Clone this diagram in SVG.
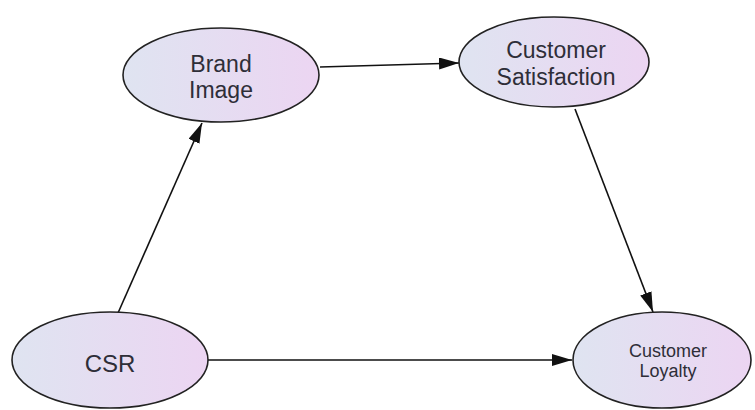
<svg xmlns="http://www.w3.org/2000/svg" width="755" height="410" viewBox="0 0 755 410">
<defs>
<linearGradient id="g" x1="0" y1="0" x2="1" y2="0">
<stop offset="0" stop-color="#dfe4f1"/>
<stop offset="1" stop-color="#ecd5f2"/>
</linearGradient>
<marker id="ah" markerUnits="userSpaceOnUse" markerWidth="22" markerHeight="14" refX="20" refY="6" orient="auto">
<path d="M0,0 L20,6 L0,12 Z" fill="#111"/>
</marker>
<style>
.n{fill:url(#g);stroke:#222;stroke-width:1.6}
.t{font-family:"Liberation Sans",Arial,sans-serif;fill:#2e2e38;text-anchor:middle}
.e{stroke:#111;stroke-width:1.6;fill:none;marker-end:url(#ah)}
</style>
</defs>
<rect width="755" height="410" fill="#fff"/>
<g id="edges">
<line class="e" x1="320" y1="67" x2="459" y2="63"/>
<line class="e" x1="118" y1="313" x2="202" y2="123"/>
<line class="e" x1="575" y1="109" x2="653" y2="312"/>
<line class="e" x1="208" y1="360" x2="572" y2="360"/>
</g>
<g id="brand">
<ellipse class="n" cx="221" cy="75" rx="98" ry="47"/>
<text class="t" font-size="23" x="221" y="72">Brand</text>
<text class="t" font-size="23" x="221" y="98">Image</text>
</g>
<g id="satisfaction">
<ellipse class="n" cx="554" cy="62" rx="95" ry="45"/>
<text class="t" font-size="23" x="556" y="58">Customer</text>
<text class="t" font-size="23" x="556" y="85">Satisfaction</text>
</g>
<g id="csr">
<ellipse class="n" cx="110" cy="360" rx="98" ry="48"/>
<text class="t" font-size="24" x="110" y="372">CSR</text>
</g>
<g id="loyalty">
<ellipse class="n" cx="662" cy="360" rx="89" ry="48"/>
<text class="t" font-size="18" x="668" y="357">Customer</text>
<text class="t" font-size="18" x="668" y="377">Loyalty</text>
</g>
</svg>
